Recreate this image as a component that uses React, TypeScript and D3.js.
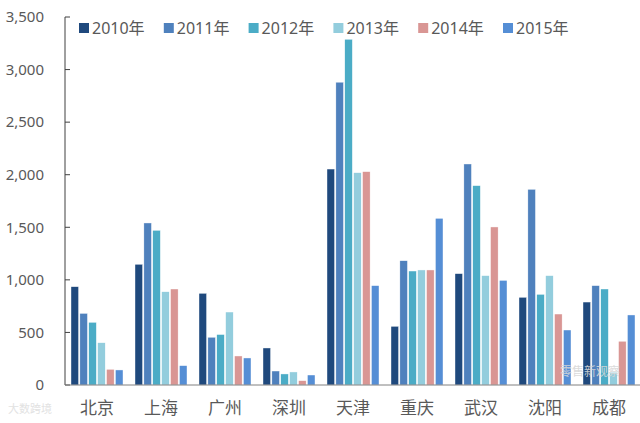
import React from "react";
import * as d3 from "d3";

const categories = ["北京", "上海", "广州", "深圳", "天津", "重庆", "武汉", "沈阳", "成都"];
const seriesNames = ["2010年", "2011年", "2012年", "2013年", "2014年", "2015年"];
const v2010 = [935, 1148, 872, 352, 2054, 558, 1059, 834, 789];
const v2011 = [681, 1541, 454, 133, 2880, 1182, 2102, 1861, 945];
const v2012 = [596, 1471, 480, 105, 3288, 1084, 1896, 862, 913];
const v2013 = [402, 887, 694, 124, 2019, 1094, 1040, 1040, 121];
const v2014 = [149, 913, 276, 41, 2029, 1094, 1503, 675, 416];
const v2015 = [143, 184, 257, 95, 945, 1585, 995, 523, 666];
const yTicks = [0, 500, 1000, 1500, 2000, 2500, 3000, 3500];
const colors = ["#1F497D", "#4F81BD", "#4BACC6", "#93CDDD", "#D99694", "#558ED5"];

const seriesValues = [v2010, v2011, v2012, v2013, v2014, v2015];

export default function App() {
  const W = 640, H = 423;
  const left = 65, right = 641, top = 17, bottom = 385;
  const x0 = d3.scaleBand<string>().domain(categories).range([left, right]).padding(0);
  const x1 = d3.scaleBand<string>().domain(seriesNames).range([6, 58]).paddingInner(0.15);
  const y = d3.scaleLinear().domain([0, 3500]).range([bottom, top]);
  const fmt = d3.format(",");
  const font = "'Noto Sans', 'Noto Sans CJK SC', sans-serif";
  const textColor = "#595959";

  return (
    <div style={{ position: "absolute", left: 0, top: 0 }}>
      <svg width={W} height={H} style={{ display: "block", background: "#fff" }}>
        {categories.map((c, ci) => (
          <g key={c} transform={`translate(${x0(c)},0)`}>
            {seriesNames.map((s, si) => {
              const v = seriesValues[si][ci];
              return (
                <rect
                  key={s}
                  x={x1(s)}
                  y={y(v)}
                  width={x1.bandwidth()}
                  height={bottom - y(v)}
                  fill={colors[si]}
                  stroke="#fff"
                  strokeWidth={0.4}
                />
              );
            })}
          </g>
        ))}
        <line x1={left} x2={left} y1={top} y2={bottom} stroke="#404040" strokeWidth={1} />
        {yTicks.map((t) => (
          <g key={t}>
            <line x1={left} x2={left + 5} y1={y(t)} y2={y(t)} stroke="#404040" strokeWidth={1} />
            <text x={44} y={y(t)} dy="0.35em" textAnchor="end" fontFamily={font} fontSize={15} fill={textColor}>
              {fmt(t)}
            </text>
          </g>
        ))}
        <line x1={left} x2={right} y1={bottom} y2={bottom} stroke="#808080" strokeWidth={1} />
        {categories.map((c) => (
          <text
            key={c}
            x={(x0(c) as number) + x0.bandwidth() / 2}
            y={408}
            dy="0.35em"
            textAnchor="middle"
            fontFamily={font}
            fontSize={17}
            fill={textColor}
          >
            {c}
          </text>
        ))}
        {seriesNames.map((s, i) => {
          const lx = 79 + i * 84.8;
          return (
            <g key={s} transform={`translate(${lx},23)`}>
              <rect x={0} y={0} width={10} height={10} fill={colors[i]} />
              <text x={13} y={5} dy="0.35em" fontFamily={font} fontSize={16} fill={textColor}>
                {s}
              </text>
            </g>
          );
        })}
        <text x={560} y={372} dy="0.35em" fontFamily={font} fontSize={12} fill="#d8d8d8" opacity={0.9}>
          零售新观察
        </text>
        <text x={8} y={409} dy="0.35em" fontFamily={font} fontSize={11} fill="#e0e0e0" opacity={0.9}>
          大数跨境
        </text>
      </svg>
    </div>
  );
}
